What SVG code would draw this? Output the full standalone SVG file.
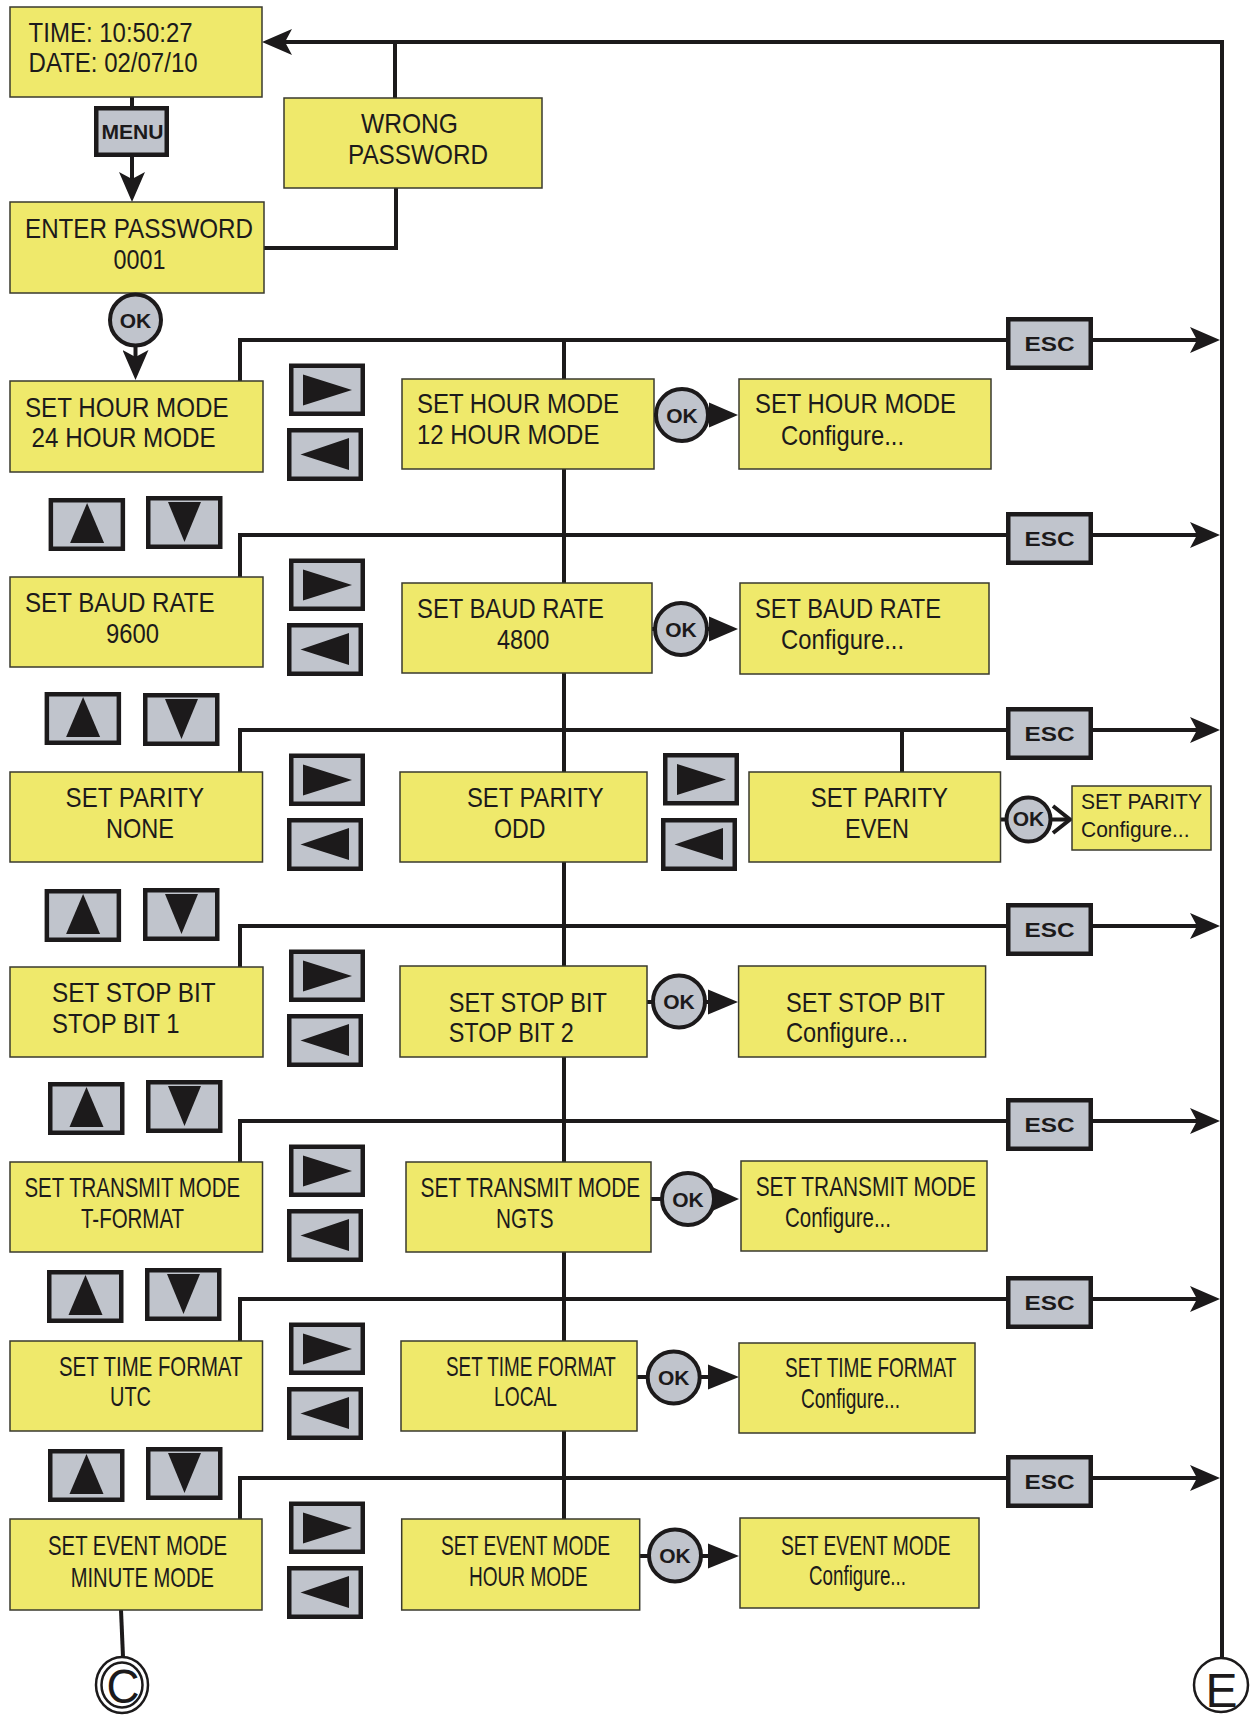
<svg xmlns="http://www.w3.org/2000/svg" width="1251" height="1719" viewBox="0 0 1251 1719">
<style>
.box{fill:#efe96b;stroke:#3a3a2e;stroke-width:1.5}
.btn{fill:#c0c4cc;stroke:#1c1a1b;stroke-width:4.5}
.ok{fill:#c0c4cc;stroke:#1c1a1b;stroke-width:4}
.tri{fill:#1c1a1b}
.ln{fill:none;stroke:#1c1a1b;stroke-width:4}
.ring{fill:#ffffff;stroke:#1c1a1b;stroke-width:2.5}
.t{font-family:"Liberation Sans",Arial,sans-serif;font-size:27.5px;fill:#1c1a1b}
.ts{font-size:22px}
.b{font-family:"Liberation Sans",Arial,sans-serif;font-weight:bold;font-size:21px;fill:#1c1a1b;text-anchor:middle}
.big{font-family:"Liberation Sans",Arial,sans-serif;font-size:48px;fill:#1c1a1b;text-anchor:middle}
</style>
<defs>
<marker id="arr" markerUnits="userSpaceOnUse" markerWidth="30" markerHeight="26" viewBox="-8 -13 30 26" refX="0" refY="0" orient="auto">
<path d="M22,0 L-8,-13 L-1,0 L-8,13 Z" fill="#1c1a1b"/>
</marker>
<g id="bR"><rect class="btn" x="2.25" y="2.25" width="71.5" height="48"/><polygon class="tri" points="14,11 63,26.5 14,42"/></g>
<g id="bL"><rect class="btn" x="2.25" y="2.25" width="71.5" height="48.5"/><polygon class="tri" points="62,10 13.5,26.5 62,42"/></g>
<g id="bU"><rect class="btn" x="2.25" y="2.25" width="72" height="48.5"/><polygon class="tri" points="38.5,5 55.5,45 21.5,45"/></g>
<g id="bD"><rect class="btn" x="2.25" y="2.25" width="72" height="48.5"/><polygon class="tri" points="22,6 55,6 38.5,46"/></g>
</defs>
<rect x="0" y="0" width="1251" height="1719" fill="#ffffff"/>

<g id="connectors">
<path class="ln" d="M1222,1658 V42 H284" marker-end="url(#arr)"/>
<path class="ln" d="M395,98 V42"/>
<path class="ln" d="M264,248 H396 V188"/>
<path class="ln" d="M132,97 V106"/>
<path class="ln" d="M132,157 V180" marker-end="url(#arr)"/>
<path class="ln" d="M135.5,346 V358" marker-end="url(#arr)"/>
<path class="ln" d="M564,340 V1519"/>
<path class="ln" d="M240,381 V340 H1198" marker-end="url(#arr)"/>
<path class="ln" d="M240,577 V535 H1198" marker-end="url(#arr)"/>
<path class="ln" d="M240,772 V730 H1198" marker-end="url(#arr)"/>
<path class="ln" d="M902,730 V772"/>
<path class="ln" d="M240,967 V926 H1198" marker-end="url(#arr)"/>
<path class="ln" d="M240,1162 V1121 H1198" marker-end="url(#arr)"/>
<path class="ln" d="M240,1341 V1299 H1198" marker-end="url(#arr)"/>
<path class="ln" d="M240,1519 V1478 H1198" marker-end="url(#arr)"/>
<path class="ln" d="M121,1610 L123,1657"/>
<path class="ln" d="M654,415 H712"/>
<polygon class="tri" points="709,402.5 738,415 709,427.5"/>
<path class="ln" d="M652,629 H712"/>
<polygon class="tri" points="709,616.5 738,629 709,641.5"/>
<path class="ln" d="M1000,819.5 H1068"/>
<polyline class="ln" points="1053,806 1070,819.5 1053,833" stroke-width="4.5"/>
<path class="ln" d="M647,1002 H712"/>
<polygon class="tri" points="708,989.5 738,1002 708,1014.5"/>
<path class="ln" d="M651,1199 H714"/>
<polygon class="tri" points="711,1186.5 739,1199 711,1211.5"/>
<path class="ln" d="M637,1377 H712"/>
<polygon class="tri" points="708,1364.5 739,1377 708,1389.5"/>
<path class="ln" d="M640,1556 H712"/>
<polygon class="tri" points="708,1543.5 739,1556 708,1568.5"/>
</g>

<g id="n-time"><rect class="box" x="10" y="7" width="252" height="90"/>
<text class="t" x="28.6" y="42" textLength="164" lengthAdjust="spacingAndGlyphs">TIME: 10:50:27</text>
<text class="t" x="28.6" y="72" textLength="169" lengthAdjust="spacingAndGlyphs">DATE: 02/07/10</text></g>
<g id="n-wrong"><rect class="box" x="284" y="98" width="258" height="90"/>
<text class="t" x="361" y="133" textLength="97" lengthAdjust="spacingAndGlyphs">WRONG</text>
<text class="t" x="348" y="164" textLength="140" lengthAdjust="spacingAndGlyphs">PASSWORD</text></g>
<g id="n-menu"><rect class="btn" x="96.25" y="108.25" width="70.5" height="46.5"/>
<text class="b" x="132.5" y="139" textLength="62" lengthAdjust="spacingAndGlyphs">MENU</text></g>
<g id="n-enter"><rect class="box" x="10" y="202" width="254" height="91"/>
<text class="t" x="25" y="238" textLength="228" lengthAdjust="spacingAndGlyphs">ENTER PASSWORD</text>
<text class="t" x="113.6" y="269" textLength="52" lengthAdjust="spacingAndGlyphs">0001</text></g>
<g id="n-ok0"><circle class="ok" cx="135.5" cy="320" r="25.5"/><text class="b" x="135.5" y="327.5">OK</text></g>

<!-- Row 1 -->
<g id="n-hour24"><rect class="box" x="10" y="381" width="253" height="91"/>
<text class="t" x="25" y="417" textLength="203.5" lengthAdjust="spacingAndGlyphs">SET HOUR MODE</text>
<text class="t" x="31.6" y="447" textLength="184" lengthAdjust="spacingAndGlyphs">24 HOUR MODE</text></g>
<g id="n-r1-keys"><use href="#bR" x="289" y="363.5"/><use href="#bL" x="287" y="428"/></g>
<g id="n-hour12"><rect class="box" x="402" y="379" width="252" height="90"/>
<text class="t" x="417" y="413" textLength="202" lengthAdjust="spacingAndGlyphs">SET HOUR MODE</text>
<text class="t" x="417" y="444" textLength="182.4" lengthAdjust="spacingAndGlyphs">12 HOUR MODE</text></g>
<g id="n-ok1"><circle class="ok" cx="682" cy="415" r="26"/><text class="b" x="682" y="422.5">OK</text></g>
<g id="n-hourcfg"><rect class="box" x="739" y="379" width="252" height="90"/>
<text class="t" x="755" y="413" textLength="201" lengthAdjust="spacingAndGlyphs">SET HOUR MODE</text>
<text class="t" x="781" y="445" textLength="123" lengthAdjust="spacingAndGlyphs">Configure...</text></g>
<g id="n-esc1"><rect class="btn" x="1008.25" y="319.25" width="82.5" height="48.5"/><text class="b" x="1049.5" y="350.5" textLength="50" lengthAdjust="spacingAndGlyphs">ESC</text></g>
<g id="n-ud1"><use href="#bU" x="48.6" y="498"/><use href="#bD" x="146" y="496"/></g>

<!-- Row 2 -->
<g id="n-baud9600"><rect class="box" x="10" y="577" width="253" height="90"/>
<text class="t" x="25" y="612" textLength="189.7" lengthAdjust="spacingAndGlyphs">SET BAUD RATE</text>
<text class="t" x="106" y="643" textLength="53" lengthAdjust="spacingAndGlyphs">9600</text></g>
<g id="n-r2-keys"><use href="#bR" x="289" y="558.5"/><use href="#bL" x="287" y="623"/></g>
<g id="n-baud4800"><rect class="box" x="402" y="583" width="250" height="90"/>
<text class="t" x="417" y="618" textLength="187" lengthAdjust="spacingAndGlyphs">SET BAUD RATE</text>
<text class="t" x="497" y="649" textLength="52.4" lengthAdjust="spacingAndGlyphs">4800</text></g>
<g id="n-ok2"><circle class="ok" cx="681" cy="629" r="26"/><text class="b" x="681" y="636.5">OK</text></g>
<g id="n-baudcfg"><rect class="box" x="740" y="583" width="249" height="91"/>
<text class="t" x="755" y="618" textLength="186" lengthAdjust="spacingAndGlyphs">SET BAUD RATE</text>
<text class="t" x="781" y="649" textLength="123" lengthAdjust="spacingAndGlyphs">Configure...</text></g>
<g id="n-esc2"><rect class="btn" x="1008.25" y="514.25" width="82.5" height="48.5"/><text class="b" x="1049.5" y="545.5" textLength="50" lengthAdjust="spacingAndGlyphs">ESC</text></g>
<g id="n-ud2"><use href="#bU" x="44.6" y="692"/><use href="#bD" x="143" y="693"/></g>

<!-- Row 3 -->
<g id="n-parnone"><rect class="box" x="10" y="772" width="252.5" height="90"/>
<text class="t" x="65.6" y="807" textLength="138.4" lengthAdjust="spacingAndGlyphs">SET PARITY</text>
<text class="t" x="106" y="838" textLength="68" lengthAdjust="spacingAndGlyphs">NONE</text></g>
<g id="n-r3-keys"><use href="#bR" x="289" y="753.5"/><use href="#bL" x="287" y="818"/></g>
<g id="n-parodd"><rect class="box" x="400" y="772" width="247" height="90"/>
<text class="t" x="467" y="807" textLength="136.6" lengthAdjust="spacingAndGlyphs">SET PARITY</text>
<text class="t" x="494" y="838" textLength="51.5" lengthAdjust="spacingAndGlyphs">ODD</text></g>
<g id="n-r3-keys2"><use href="#bR" x="663" y="753"/><use href="#bL" x="661" y="818"/></g>
<g id="n-pareven"><rect class="box" x="749" y="772" width="251.5" height="90"/>
<text class="t" x="810.7" y="807" textLength="137.3" lengthAdjust="spacingAndGlyphs">SET PARITY</text>
<text class="t" x="845" y="838" textLength="64" lengthAdjust="spacingAndGlyphs">EVEN</text></g>
<g id="n-ok3"><circle class="ok" cx="1028.5" cy="819.5" r="22"/><text class="b" x="1028.5" y="826" font-size="18">OK</text></g>
<g id="n-parcfg"><rect class="box" x="1072" y="786" width="139" height="64"/>
<text class="t ts" x="1081" y="809" textLength="121" lengthAdjust="spacingAndGlyphs">SET PARITY</text>
<text class="t ts" x="1081" y="837" textLength="108.5" lengthAdjust="spacingAndGlyphs">Configure...</text></g>
<g id="n-esc3"><rect class="btn" x="1008.25" y="709.25" width="82.5" height="48.5"/><text class="b" x="1049.5" y="740.5" textLength="50" lengthAdjust="spacingAndGlyphs">ESC</text></g>
<g id="n-ud3"><use href="#bU" x="44.6" y="889"/><use href="#bD" x="143" y="888"/></g>

<!-- Row 4 -->
<g id="n-stop1"><rect class="box" x="10" y="967" width="253" height="90"/>
<text class="t" x="52" y="1002" textLength="163.6" lengthAdjust="spacingAndGlyphs">SET STOP BIT</text>
<text class="t" x="52" y="1033" textLength="127.5" lengthAdjust="spacingAndGlyphs">STOP BIT 1</text></g>
<g id="n-r4-keys"><use href="#bR" x="289" y="949.5"/><use href="#bL" x="287" y="1014"/></g>
<g id="n-stop2"><rect class="box" x="400" y="966" width="247" height="91"/>
<text class="t" x="448.7" y="1012" textLength="158.3" lengthAdjust="spacingAndGlyphs">SET STOP BIT</text>
<text class="t" x="448.7" y="1042" textLength="125" lengthAdjust="spacingAndGlyphs">STOP BIT 2</text></g>
<g id="n-ok4"><circle class="ok" cx="679" cy="1001.5" r="26"/><text class="b" x="679" y="1009">OK</text></g>
<g id="n-stopcfg"><rect class="box" x="738.6" y="966" width="247" height="91"/>
<text class="t" x="786" y="1012" textLength="159" lengthAdjust="spacingAndGlyphs">SET STOP BIT</text>
<text class="t" x="786" y="1042" textLength="122" lengthAdjust="spacingAndGlyphs">Configure...</text></g>
<g id="n-esc4"><rect class="btn" x="1008.25" y="905.25" width="82.5" height="48.5"/><text class="b" x="1049.5" y="936.5" textLength="50" lengthAdjust="spacingAndGlyphs">ESC</text></g>
<g id="n-ud4"><use href="#bU" x="48" y="1082"/><use href="#bD" x="146" y="1080"/></g>

<!-- Row 5 -->
<g id="n-tformat"><rect class="box" x="10" y="1162" width="252.5" height="90"/>
<text class="t" x="24.5" y="1197" textLength="215.5" lengthAdjust="spacingAndGlyphs">SET TRANSMIT MODE</text>
<text class="t" x="81" y="1228" textLength="103" lengthAdjust="spacingAndGlyphs">T-FORMAT</text></g>
<g id="n-r5-keys"><use href="#bR" x="289" y="1144.5"/><use href="#bL" x="287" y="1209"/></g>
<g id="n-ngts"><rect class="box" x="406" y="1162" width="245" height="90"/>
<text class="t" transform="matrix(0.7573 0 0 1 420.5 1197)" x="0" y="0">SET TRANSMIT MODE</text>
<text class="t" x="496" y="1228" textLength="57.6" lengthAdjust="spacingAndGlyphs">NGTS</text></g>
<g id="n-ok5"><circle class="ok" cx="688" cy="1199" r="26"/><text class="b" x="688" y="1206.5">OK</text></g>
<g id="n-transcfg"><rect class="box" x="741" y="1161" width="246" height="90"/>
<text class="t" x="755.7" y="1196" textLength="220.3" lengthAdjust="spacingAndGlyphs">SET TRANSMIT MODE</text>
<text class="t" x="785" y="1227" textLength="106" lengthAdjust="spacingAndGlyphs">Configure...</text></g>
<g id="n-esc5"><rect class="btn" x="1008.25" y="1100.25" width="82.5" height="48.5"/><text class="b" x="1049.5" y="1131.5" textLength="50" lengthAdjust="spacingAndGlyphs">ESC</text></g>
<g id="n-ud5"><use href="#bU" x="47" y="1270"/><use href="#bD" x="145" y="1268"/></g>

<!-- Row 6 -->
<g id="n-utc"><rect class="box" x="10" y="1341" width="252.5" height="90"/>
<text class="t" x="59" y="1376" textLength="183.4" lengthAdjust="spacingAndGlyphs">SET TIME FORMAT</text>
<text class="t" x="110" y="1406" textLength="41" lengthAdjust="spacingAndGlyphs">UTC</text></g>
<g id="n-r6-keys"><use href="#bR" x="289" y="1322.5"/><use href="#bL" x="287" y="1387"/></g>
<g id="n-local"><rect class="box" x="401" y="1341" width="236" height="90"/>
<text class="t" transform="matrix(0.6864 0 0 1 446 1376)" x="0" y="0">SET TIME FORMAT</text>
<text class="t" x="494" y="1406" textLength="63" lengthAdjust="spacingAndGlyphs">LOCAL</text></g>
<g id="n-ok6"><circle class="ok" cx="673.7" cy="1377.5" r="26"/><text class="b" x="673.7" y="1385">OK</text></g>
<g id="n-timecfg"><rect class="box" x="739" y="1343" width="236" height="90"/>
<text class="t" x="785" y="1377" textLength="171.4" lengthAdjust="spacingAndGlyphs">SET TIME FORMAT</text>
<text class="t" x="801" y="1408" textLength="99" lengthAdjust="spacingAndGlyphs">Configure...</text></g>
<g id="n-esc6"><rect class="btn" x="1008.25" y="1278.25" width="82.5" height="48.5"/><text class="b" x="1049.5" y="1309.5" textLength="50" lengthAdjust="spacingAndGlyphs">ESC</text></g>
<g id="n-ud6"><use href="#bU" x="48" y="1449"/><use href="#bD" x="146" y="1447"/></g>

<!-- Row 7 -->
<g id="n-minute"><rect class="box" x="10" y="1519" width="252" height="91"/>
<text class="t" x="48" y="1555" textLength="179" lengthAdjust="spacingAndGlyphs">SET EVENT MODE</text>
<text class="t" x="70.7" y="1587" textLength="143.3" lengthAdjust="spacingAndGlyphs">MINUTE MODE</text></g>
<g id="n-r7-keys"><use href="#bR" x="289" y="1501.5"/><use href="#bL" x="287" y="1566"/></g>
<g id="n-hourmode"><rect class="box" x="401.7" y="1519" width="238" height="91"/>
<text class="t" transform="matrix(0.6997 0 0 1 441 1555)" x="0" y="0">SET EVENT MODE</text>
<text class="t" x="469" y="1586" textLength="118.6" lengthAdjust="spacingAndGlyphs">HOUR MODE</text></g>
<g id="n-ok7"><circle class="ok" cx="675" cy="1555.5" r="26"/><text class="b" x="675" y="1563">OK</text></g>
<g id="n-eventcfg"><rect class="box" x="740" y="1518" width="239" height="90"/>
<text class="t" x="781" y="1555" textLength="169.6" lengthAdjust="spacingAndGlyphs">SET EVENT MODE</text>
<text class="t" x="809" y="1585" textLength="97" lengthAdjust="spacingAndGlyphs">Configure...</text></g>
<g id="n-esc7"><rect class="btn" x="1008.25" y="1457.25" width="82.5" height="48.5"/><text class="b" x="1049.5" y="1488.5" textLength="50" lengthAdjust="spacingAndGlyphs">ESC</text></g>

<g id="n-c"><ellipse class="ring" cx="122" cy="1685" rx="26" ry="28"/><ellipse class="ring" cx="122" cy="1685" rx="20.5" ry="22.5"/>
<text class="big" x="123" y="1703" font-size="46" textLength="33" lengthAdjust="spacingAndGlyphs">C</text></g>
<g id="n-e"><circle class="ring" cx="1221" cy="1685" r="27"/>
<text class="big" x="1221.5" y="1707" font-size="50" textLength="32" lengthAdjust="spacingAndGlyphs">E</text></g>
</svg>
